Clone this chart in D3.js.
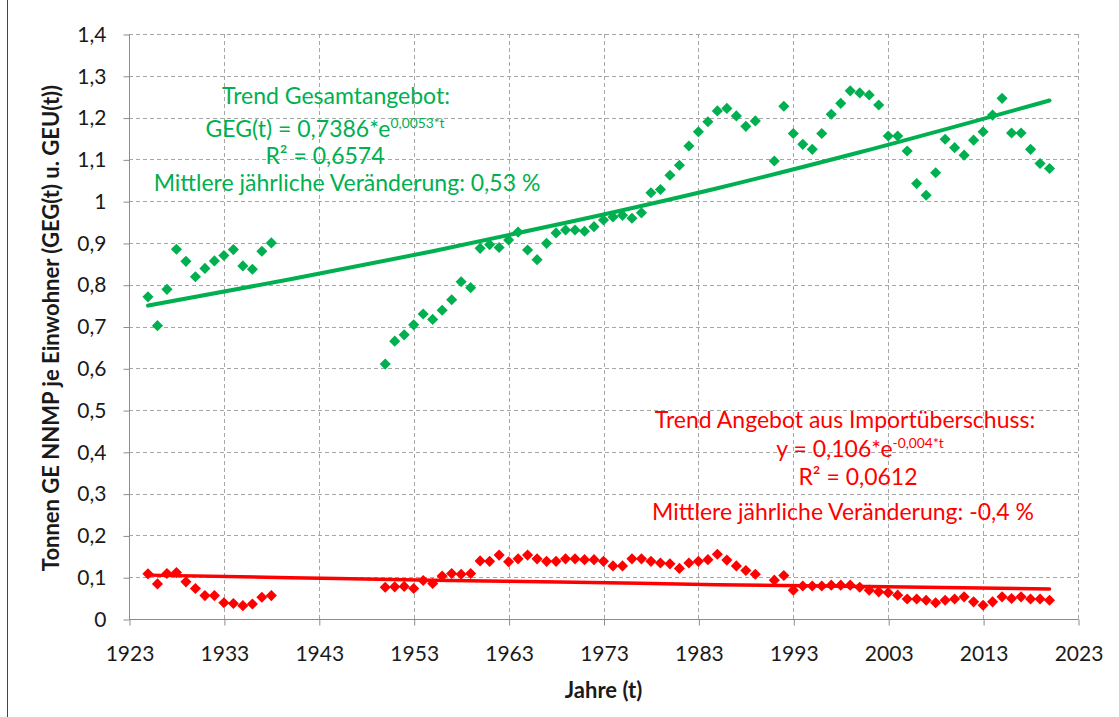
<!DOCTYPE html>
<html>
<head>
<meta charset="utf-8">
<script src="https://cdn.jsdelivr.net/npm/d3@7"></script>
<style>
  html, body { margin: 0; padding: 0; background: #fff; }
  svg { display: block; font-family: Lato, "Open Sans", sans-serif; }
</style>
</head>
<body>
<svg id="chart" width="1119" height="717"></svg>
<script>
// ---------- data ----------
const yearsGreen = [1925,1926,1927,1928,1929,1930,1931,1932,1933,1934,1935,1936,1937,1938,
  1950,1951,1952,1953,1954,1955,1956,1957,1958,1959,1960,1961,1962,1963,1964,1965,1966,1967,1968,1969,
  1970,1971,1972,1973,1974,1975,1976,1977,1978,1979,1980,1981,1982,1983,1984,1985,1986,1987,1988,1989,
  1991,1992,1993,1994,1995,1996,1997,1998,1999,2000,2001,2002,2003,2004,2005,2006,2007,2008,2009,2010,
  2011,2012,2013,2014,2015,2016,2017,2018,2019,2020];
const valuesGreen = [0.771,0.702,0.789,0.885,0.856,0.819,0.839,0.857,0.870,0.884,0.845,0.837,0.880,0.900,
  0.610,0.665,0.680,0.704,0.730,0.717,0.739,0.764,0.807,0.793,0.887,0.896,0.889,0.907,0.926,0.883,0.860,0.899,0.924,0.931,
  0.931,0.928,0.939,0.955,0.962,0.966,0.959,0.972,1.020,1.028,1.062,1.086,1.132,1.166,1.190,1.216,1.222,1.204,1.179,1.192,
  1.096,1.227,1.162,1.136,1.124,1.162,1.208,1.234,1.264,1.259,1.254,1.230,1.156,1.156,1.120,1.042,1.014,1.068,1.148,1.128,
  1.110,1.146,1.166,1.206,1.246,1.163,1.163,1.124,1.090,1.078];

const yearsRed = yearsGreen.slice();
const valuesRed = [0.108,0.084,0.109,0.111,0.089,0.073,0.056,0.056,0.039,0.037,0.032,0.036,0.052,0.056,
  0.076,0.077,0.078,0.073,0.092,0.085,0.103,0.109,0.107,0.109,0.139,0.138,0.153,0.137,0.144,0.153,0.144,0.138,0.138,0.144,
  0.144,0.142,0.142,0.138,0.127,0.127,0.144,0.144,0.138,0.134,0.132,0.121,0.134,0.138,0.142,0.155,0.141,0.127,0.116,0.107,
  0.093,0.104,0.069,0.079,0.079,0.079,0.081,0.081,0.081,0.076,0.069,0.065,0.063,0.057,0.048,0.048,0.045,0.039,0.045,0.048,
  0.053,0.041,0.033,0.041,0.053,0.049,0.053,0.048,0.048,0.045];

// trend lines
const trendYears = [1925,1940,1955,1970,1985,2000,2020];
const trendGreen = [0.750,0.813,0.880,0.953,1.031,1.117,1.241];
const trendRed   = [0.105,0.099,0.093,0.088,0.082,0.078,0.072];

const xTickValues = [1923,1933,1943,1953,1963,1973,1983,1993,2003,2013,2023];
const yTickValues = [0,0.1,0.2,0.3,0.4,0.5,0.6,0.7,0.8,0.9,1,1.1,1.2,1.3,1.4];
const yTickLabels = ["0","0,1","0,2","0,3","0,4","0,5","0,6","0,7","0,8","0,9","1","1,1","1,2","1,3","1,4"];

const yTitle = "Tonnen GE NNMP je Einwohner (GEG(t) u. GEU(t))";
const xTitle = "Jahre (t)";

const greenNote = ["Trend Gesamtangebot:", "GEG(t) = 0,7386*e", "0,0053*t", "R² = 0,6574", "Mittlere jährliche Veränderung: 0,53 %"];
const redNote = ["Trend Angebot aus Importüberschuss:", "y = 0,106*e", "-0,004*t", "R² = 0,0612", "Mittlere jährliche Veränderung: -0,4 %"];

// ---------- drawing ----------
const GREEN = "#00B050", RED = "#FF0000";
const svg = d3.select("#chart");
const L = 129, R = 1078, T = 34, B = 619;
const x = d3.scaleLinear().domain([1923, 2023]).range([L, R]);
const y = d3.scaleLinear().domain([0, 1.4]).range([B, T]);

// left frame line
svg.append("line").attr("x1", 7.5).attr("x2", 7.5).attr("y1", 0).attr("y2", 717)
  .attr("stroke", "#444").attr("stroke-width", 1);

// grid
const grid = svg.append("g").attr("stroke", "#a6a6a6").attr("stroke-width", 1).attr("stroke-dasharray", "4,3");
grid.selectAll(".h").data(yTickValues.slice(1)).join("line")
  .attr("x1", L).attr("x2", R)
  .attr("y1", d => Math.round(y(d)) + 0.5).attr("y2", d => Math.round(y(d)) + 0.5);
grid.selectAll(".v").data(xTickValues.slice(1)).join("line")
  .attr("y1", T).attr("y2", B)
  .attr("x1", d => Math.round(x(d)) + 0.5).attr("x2", d => Math.round(x(d)) + 0.5);

// axes
const yAxis = svg.append("g").attr("transform", `translate(${L + 0.5},0.5)`)
  .call(d3.axisLeft(y).tickValues(yTickValues).tickFormat((d, i) => yTickLabels[i]).tickSize(6).tickPadding(17));
const xAxis = svg.append("g").attr("transform", `translate(0.5,${B + 0.5})`)
  .call(d3.axisBottom(x).tickValues(xTickValues).tickFormat(d => String(d)).tickSize(6));
[yAxis, xAxis].forEach(g => {
  g.select(".domain").attr("stroke", "#8c8c8c");
  g.selectAll(".tick line").attr("stroke", "#8c8c8c");
  g.selectAll("text").attr("fill", "#1a1a1a").style("font-size", "21px").style("font-family", "Lato");
});
xAxis.select(".domain").attr("d", `M${L},0H${R}`);
yAxis.select(".domain").attr("d", `M0,${B}V${T}`);
xAxis.selectAll("text").attr("y", 41).attr("dy", "0");

// titles
svg.append("text").attr("transform", "translate(59,328) rotate(-90)")
  .attr("text-anchor", "middle").style("font-weight", "bold").style("font-size", "22px")
  .attr("fill", "#1a1a1a").text(yTitle);
svg.append("text").attr("x", (L + R) / 2).attr("y", 698)
  .attr("text-anchor", "middle").style("font-weight", "bold").style("font-size", "22px")
  .attr("fill", "#1a1a1a").text(xTitle);

// markers
const diamond = d3.symbol().type(d3.symbolSquare).size(62)();
function drawPoints(years, vals, color) {
  svg.append("g").selectAll("path").data(years.map((yr, i) => [yr, vals[i]])).join("path")
    .attr("d", diamond)
    .attr("transform", d => `translate(${x(d[0])},${y(d[1])}) rotate(45)`)
    .attr("fill", color);
}
drawPoints(yearsGreen, valuesGreen, GREEN);
drawPoints(yearsRed, valuesRed, RED);

// trend lines
const line = d3.line().x(d => x(d[0])).y(d => y(d[1])).curve(d3.curveMonotoneX);
svg.append("path").attr("d", line(trendYears.map((yr, i) => [yr, trendGreen[i]])))
  .attr("fill", "none").attr("stroke", GREEN).attr("stroke-width", 4).attr("stroke-linecap", "round");
svg.append("path").attr("d", line(trendYears.map((yr, i) => [yr, trendRed[i]])))
  .attr("fill", "none").attr("stroke", RED).attr("stroke-width", 3.5).attr("stroke-linecap", "round");

// annotations
function note(lines, color, pos) {
  const g = svg.append("g").attr("fill", color).style("font-family", "Lato");
  const fs = pos.fs;
  g.append("text").attr("x", pos.cx[0]).attr("y", pos.by[0]).attr("text-anchor", "middle")
    .style("font-size", fs + "px").text(lines[0]);
  const t2 = g.append("text").attr("x", pos.cx[1]).attr("y", pos.by[1]).attr("text-anchor", "middle")
    .style("font-size", fs + "px");
  t2.append("tspan").text(lines[1]);
  t2.append("tspan").attr("dy", -9).style("font-size", (fs * 0.6) + "px").text(lines[2]);
  g.append("text").attr("x", pos.cx[2]).attr("y", pos.by[2]).attr("text-anchor", "middle")
    .style("font-size", fs + "px").text(lines[3]);
  g.append("text").attr("x", pos.cx[3]).attr("y", pos.by[3]).attr("text-anchor", "middle")
    .style("font-size", fs + "px").text(lines[4]);
}
note(greenNote, GREEN, { fs: 23, cx: [336, 325, 325, 347], by: [104, 137, 164, 191] });
note(redNote, RED, { fs: 23, cx: [845, 860, 858, 843], by: [428, 457, 485, 520] });
</script>
</body>
</html>
